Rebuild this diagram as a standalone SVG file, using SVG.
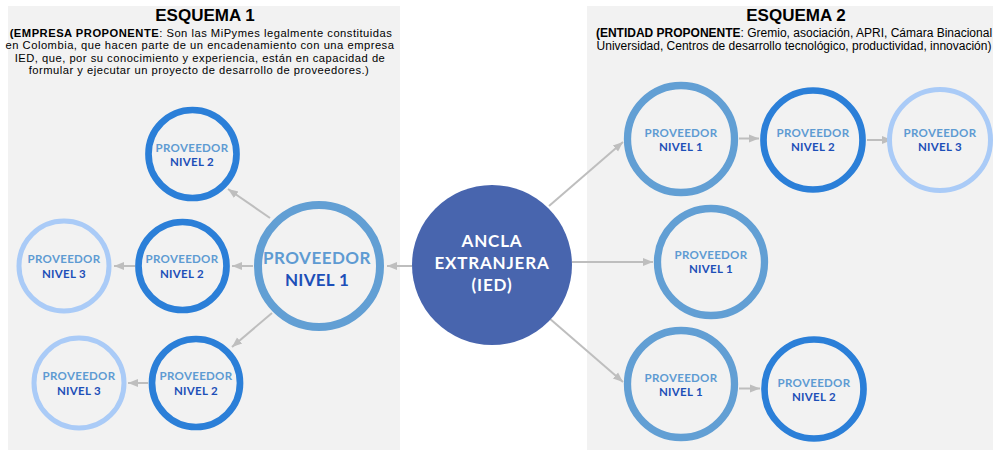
<svg xmlns="http://www.w3.org/2000/svg" width="993" height="453" viewBox="0 0 993 453">
<defs>
<style>
.panel{fill:#F2F2F2}
.title{font-family:"Liberation Sans",Arial,sans-serif;font-weight:700;font-size:17px;fill:#000;text-anchor:middle}
.desc{font-family:"Liberation Sans",Arial,sans-serif;font-size:12px;fill:#000;text-anchor:middle}
.dl{font-size:11.2px;letter-spacing:0.5px}
.desc .b{font-weight:700}
.n1{fill:#F2F2F2;stroke:#629FD4;stroke-width:7.3}
.n2{fill:#F2F2F2;stroke:#2B7FD8;stroke-width:6.7}
.n3{fill:#F2F2F2;stroke:#AACBF7;stroke-width:5}
.big{fill:#F2F2F2;stroke:#629FD4;stroke-width:8}
.lab{font-family:Lato,"Open Sans",sans-serif;font-weight:700;text-anchor:middle}
.p{fill:#5E9BD2;font-size:11.5px;letter-spacing:0.3px}
.v{fill:#1D4FB8;font-size:11.5px;letter-spacing:0.3px}
.bp{fill:#5E9BD2;font-size:17px;letter-spacing:0.5px}
.bv{fill:#1D4FB8;font-size:17px;letter-spacing:0.3px}
.anc{fill:#4865AE}
.at{font-family:Lato,"Open Sans",sans-serif;font-weight:700;font-size:17px;letter-spacing:0.8px;fill:#fff;text-anchor:middle}
.edge{stroke:#BEBEBE;stroke-width:2;fill:none;marker-end:url(#arr)}
</style>
<marker id="arr" markerUnits="userSpaceOnUse" markerWidth="10" markerHeight="10" viewBox="0 0 10 10" refX="10" refY="5" orient="auto">
<path d="M0,1 L10,5 L0,9 Z" fill="#BEBEBE"/>
</marker>
</defs>

<rect class="panel" x="8" y="6" width="392" height="444"/>
<rect class="panel" x="587" y="6" width="406" height="444"/>

<g id="titles">
<text class="title" x="205" y="21">ESQUEMA 1</text>
<text class="desc dl" x="201" y="36.5"><tspan class="b">(EMPRESA PROPONENTE</tspan>: Son las MiPymes legalmente constituidas</text>
<text class="desc dl" x="200" y="49">en Colombia, que hacen parte de un encadenamiento con una empresa</text>
<text class="desc dl" x="200" y="61.5">IED, que, por su conocimiento y experiencia, están en capacidad de</text>
<text class="desc dl" x="199" y="74">formular y ejecutar un proyecto de desarrollo de proveedores.)</text>
<text class="title" x="796" y="21">ESQUEMA 2</text>
<text class="desc" x="794" y="37"><tspan class="b">(ENTIDAD PROPONENTE</tspan>: Gremio, asociación, APRI, Cámara Binacional</text>
<text class="desc" x="794" y="50">Universidad, Centros de desarrollo tecnológico, productividad, innovación)</text>
</g>

<g id="connectors">
<line class="edge" x1="412" y1="266" x2="387" y2="266"/>
<line class="edge" x1="270" y1="218" x2="228" y2="189"/>
<line class="edge" x1="253" y1="266" x2="232" y2="266"/>
<line class="edge" x1="272" y1="313" x2="232" y2="347"/>
<line class="edge" x1="135" y1="266" x2="114" y2="266"/>
<line class="edge" x1="148" y1="383" x2="128" y2="383"/>
<line class="edge" x1="549" y1="206" x2="623" y2="142"/>
<line class="edge" x1="572" y1="262" x2="653" y2="262"/>
<line class="edge" x1="549" y1="318" x2="623" y2="382"/>
<line class="edge" x1="739" y1="138.5" x2="759" y2="138.5"/>
<line class="edge" x1="867" y1="140" x2="892" y2="140"/>
<line class="edge" x1="739" y1="388.5" x2="760" y2="388.5"/>
</g>

<g id="ancla">
<circle class="anc" cx="492" cy="265" r="80"/>
<text class="at" x="492" y="247">ANCLA</text>
<text class="at" x="492" y="269">EXTRANJERA</text>
<text class="at" x="492" y="291">(IED)</text>
</g>

<g id="e1-n1">
<circle class="big" cx="319" cy="266" r="61"/>
<text class="lab bp" x="317" y="264">PROVEEDOR</text>
<text class="lab bv" x="317" y="286">NIVEL 1</text>
</g>
<g id="e1-n2a">
<circle class="n2" cx="192.5" cy="154" r="44"/>
<text class="lab p" x="192" y="152">PROVEEDOR</text>
<text class="lab v" x="192" y="166">NIVEL 2</text>
</g>
<g id="e1-n2b">
<circle class="n2" cx="182.5" cy="266" r="44"/>
<text class="lab p" x="182" y="263">PROVEEDOR</text>
<text class="lab v" x="182" y="277.5">NIVEL 2</text>
</g>
<g id="e1-n2c">
<circle class="n2" cx="196" cy="383" r="44"/>
<text class="lab p" x="196" y="380">PROVEEDOR</text>
<text class="lab v" x="196" y="394.5">NIVEL 2</text>
</g>
<g id="e1-n3a">
<circle class="n3" cx="64" cy="266" r="45"/>
<text class="lab p" x="64" y="263">PROVEEDOR</text>
<text class="lab v" x="64" y="277.5">NIVEL 3</text>
</g>
<g id="e1-n3b">
<circle class="n3" cx="79" cy="383" r="45"/>
<text class="lab p" x="79" y="380">PROVEEDOR</text>
<text class="lab v" x="79" y="394.5">NIVEL 3</text>
</g>

<g id="e2-n1a">
<circle class="n1" cx="681" cy="139" r="53.5"/>
<text class="lab p" x="681" y="137">PROVEEDOR</text>
<text class="lab v" x="681" y="151">NIVEL 1</text>
</g>
<g id="e2-n2a">
<circle class="n2" cx="813" cy="140" r="49.5"/>
<text class="lab p" x="813" y="137">PROVEEDOR</text>
<text class="lab v" x="813" y="151">NIVEL 2</text>
</g>
<g id="e2-n3a">
<circle class="n3" cx="940" cy="140" r="50.5"/>
<text class="lab p" x="940" y="137">PROVEEDOR</text>
<text class="lab v" x="940" y="151">NIVEL 3</text>
</g>
<g id="e2-n1b">
<circle class="n1" cx="711" cy="262" r="53.5"/>
<text class="lab p" x="711" y="259">PROVEEDOR</text>
<text class="lab v" x="711" y="273">NIVEL 1</text>
</g>
<g id="e2-n1c">
<circle class="n1" cx="681" cy="384" r="53.5"/>
<text class="lab p" x="681" y="381.5">PROVEEDOR</text>
<text class="lab v" x="681" y="395.5">NIVEL 1</text>
</g>
<g id="e2-n2b">
<circle class="n2" cx="814" cy="389" r="49.5"/>
<text class="lab p" x="814" y="387">PROVEEDOR</text>
<text class="lab v" x="814" y="401">NIVEL 2</text>
</g>
</svg>
